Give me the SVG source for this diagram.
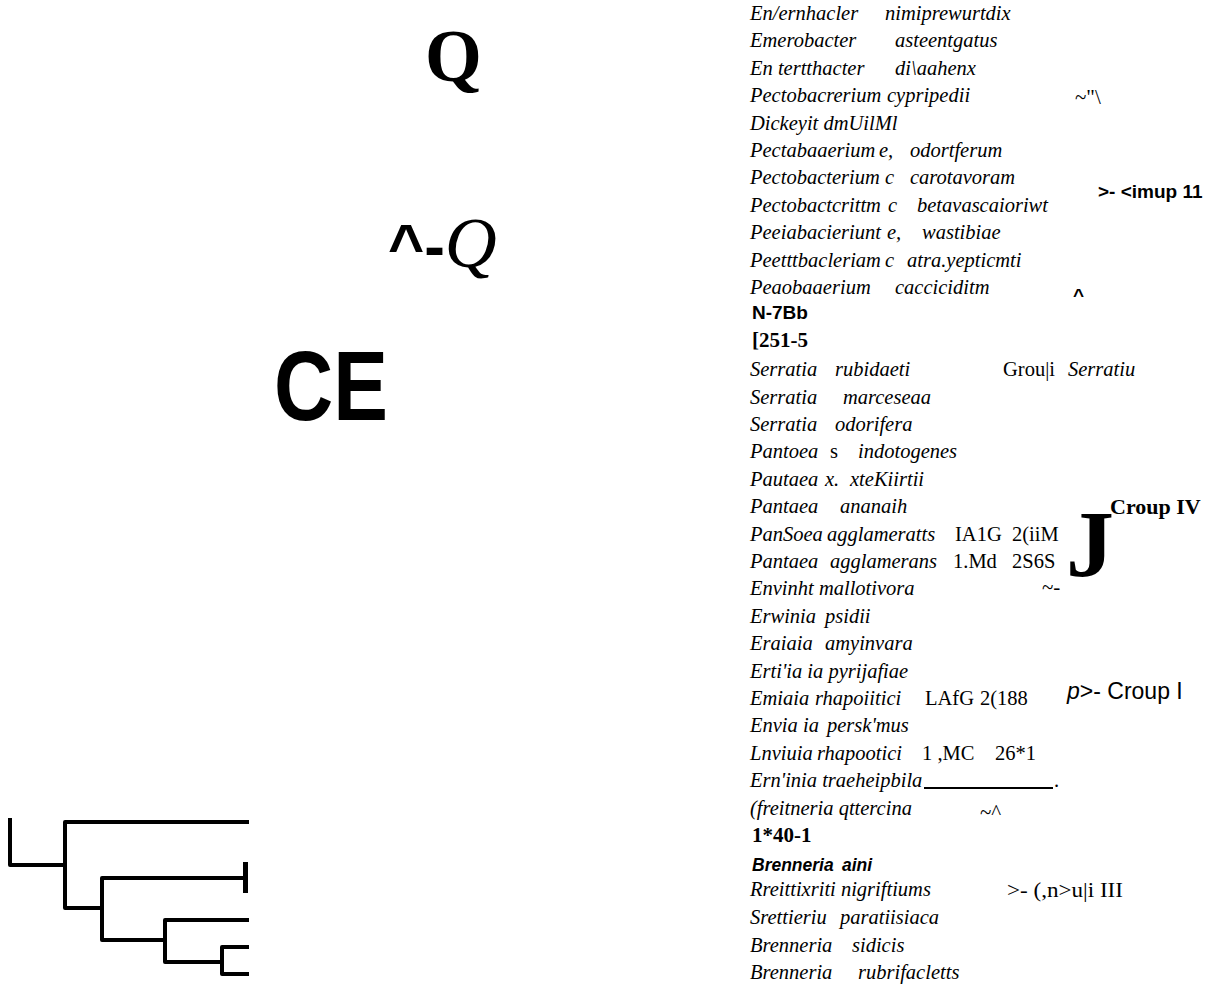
<svg xmlns="http://www.w3.org/2000/svg" width="1210" height="984" viewBox="0 0 1210 984">
<style>
.sp{font-family:"Liberation Serif",serif;font-style:italic;font-size:20.5px;fill:#000}
.rm{font-family:"Liberation Serif",serif;font-style:normal;font-size:20.5px;fill:#000}
.sbf{font-family:"Liberation Serif",serif;font-weight:bold;font-size:21px;fill:#000}
.ab{font-family:"Liberation Sans",sans-serif;font-weight:bold;font-size:19px;fill:#000}
.abi{font-family:"Liberation Sans",sans-serif;font-weight:bold;font-style:italic;font-size:17.5px;fill:#000}
.ar{font-family:"Liberation Sans",sans-serif;font-size:23px;fill:#000}
.tree{fill:none;stroke:#000;stroke-width:4;stroke-linejoin:round;stroke-linecap:square}
</style>
<rect width="1210" height="984" fill="#fff"/>
<g id="big-marks">
<text x="425" y="81" style="font-family:'Liberation Serif',serif;font-weight:bold;font-size:73px">Q</text>
<text x="388" y="267"><tspan style="font-family:'Liberation Sans',sans-serif;font-weight:bold;font-size:62px">^-</tspan><tspan style="font-family:'Liberation Serif',serif;font-style:italic;font-size:72px">Q</tspan></text>
<text x="274" y="420" textLength="114" lengthAdjust="spacingAndGlyphs" style="font-family:'Liberation Sans',sans-serif;font-weight:bold;font-size:98px">CE</text>
</g>
<g id="connectors">
<path class="tree" d="M10,820 V865 H65"/>
<path class="tree" d="M247,822 H65 V908 H102"/>
<path class="tree" d="M245,878 H102 V940 H165"/>
<path class="tree" d="M247,920 H165 V962 H222"/>
<path class="tree" d="M247,947 H222 V974 H247"/>
<path d="M243,862 H248 V893 H243 Z" fill="#000"/>
<line x1="924" y1="788" x2="1053" y2="788" stroke="#000" stroke-width="2"/>
</g>
<g id="taxa">
<g id="t01"><text class="sp" x="750" y="20">En/ernhacler</text><text class="sp" x="885" y="20">nimiprewurtdix</text></g>
<g id="t02"><text class="sp" x="750" y="47">Emerobacter</text><text class="sp" x="895" y="47">asteentgatus</text></g>
<g id="t03"><text class="sp" x="750" y="75">En tertthacter</text><text class="sp" x="895" y="75">di\aahenx</text></g>
<g id="t04"><text class="sp" x="750" y="102">Pectobacrerium</text><text class="sp" x="887" y="102">cypripedii</text></g>
<g id="t05"><text class="sp" x="750" y="130">Dickeyit dmUilMl</text></g>
<g id="t06"><text class="sp" x="750" y="157">Pectabaaerium</text><text class="sp" x="879" y="157">e,</text><text class="sp" x="910" y="157">odortferum</text></g>
<g id="t07"><text class="sp" x="750" y="184">Pectobacterium</text><text class="sp" x="885" y="184">c</text><text class="sp" x="910" y="184">carotavoram</text></g>
<g id="t08"><text class="sp" x="750" y="212">Pectobactcrittm</text><text class="sp" x="888" y="212">c</text><text class="sp" x="917" y="212">betavascaioriwt</text></g>
<g id="t09"><text class="sp" x="750" y="239">Peeiabacieriunt</text><text class="sp" x="887" y="239">e,</text><text class="sp" x="922" y="239">wastibiae</text></g>
<g id="t10"><text class="sp" x="750" y="267">Peetttbacleriam</text><text class="sp" x="885" y="267">c</text><text class="sp" x="907" y="267">atra.yepticmti</text></g>
<g id="t11"><text class="sp" x="750" y="294">Peaobaaerium</text><text class="sp" x="895" y="294">cacciciditm</text></g>
<g id="t12"><text class="ab" x="752" y="319">N-7Bb</text></g>
<g id="t13"><text class="sbf" x="752" y="347">[251-5</text></g>
<g id="t14"><text class="sp" x="750" y="376">Serratia</text><text class="sp" x="835" y="376">rubidaeti</text></g>
<g id="t15"><text class="sp" x="750" y="404">Serratia</text><text class="sp" x="843" y="404">marceseaa</text></g>
<g id="t16"><text class="sp" x="750" y="431">Serratia</text><text class="sp" x="835" y="431">odorifera</text></g>
<g id="t17"><text class="sp" x="750" y="458">Pantoea</text><text class="rm" x="830" y="458">s</text><text class="sp" x="858" y="458">indotogenes</text></g>
<g id="t18"><text class="sp" x="750" y="486">Pautaea</text><text class="sp" x="825" y="486">x.</text><text class="sp" x="850" y="486">xteKiirtii</text></g>
<g id="t19"><text class="sp" x="750" y="513">Pantaea</text><text class="sp" x="840" y="513">ananaih</text></g>
<g id="t20"><text class="sp" x="750" y="541">PanSoea</text><text class="sp" x="827" y="541">agglameratts</text><text class="rm" x="955" y="541">IA1G</text><text class="rm" x="1012" y="541">2(iiM</text></g>
<g id="t21"><text class="sp" x="750" y="568">Pantaea</text><text class="sp" x="830" y="568">agglamerans</text><text class="rm" x="953" y="568">1.Md</text><text class="rm" x="1012" y="568">2S6S</text></g>
<g id="t22"><text class="sp" x="750" y="595">Envinht mallotivora</text></g>
<g id="t23"><text class="sp" x="750" y="623">Erwinia</text><text class="sp" x="825" y="623">psidii</text></g>
<g id="t24"><text class="sp" x="750" y="650">Eraiaia</text><text class="sp" x="825" y="650">amyinvara</text></g>
<g id="t25"><text class="sp" x="750" y="678">Erti'ia ia pyrijafiae</text></g>
<g id="t26"><text class="sp" x="750" y="705">Emiaia</text><text class="sp" x="815" y="705">rhapoiitici</text><text class="rm" x="925" y="705">LAfG</text><text class="rm" x="980" y="705">2(188</text></g>
<g id="t27"><text class="sp" x="750" y="732">Envia ia</text><text class="sp" x="827" y="732">persk'mus</text></g>
<g id="t28"><text class="sp" x="750" y="760">Lnviuia</text><text class="sp" x="817" y="760">rhapootici</text><text class="rm" x="922" y="760" xml:space="preserve">1 ,MC</text><text class="rm" x="995" y="760">26*1</text></g>
<g id="t29"><text class="sp" x="750" y="787">Ern'inia traeheipbila</text><text class="rm" x="1054" y="787">.</text></g>
<g id="t30"><text class="sp" x="750" y="815">(freitneria qttercina</text></g>
<g id="t31"><text class="sbf" x="752" y="842">1*40-1</text></g>
<g id="t32"><text class="abi" x="752" y="871">Brenneria</text><text class="abi" x="842" y="871">aini</text></g>
<g id="t33"><text class="sp" x="750" y="896">Rreittixriti nigriftiums</text></g>
<g id="t34"><text class="sp" x="750" y="924">Srettieriu</text><text class="sp" x="840" y="924">paratiisiaca</text></g>
<g id="t35"><text class="sp" x="750" y="952">Brenneria</text><text class="sp" x="852" y="952">sidicis</text></g>
<g id="t36"><text class="sp" x="750" y="979">Brenneria</text><text class="sp" x="858" y="979">rubrifacletts</text></g>
</g>
<g id="group-labels">
<text class="rm" x="1075" y="104" style="font-size:21px">~"\</text>
<text class="ab" x="1098" y="198">&gt;- &lt;imup 11</text>
<text class="ab" x="1073" y="302">^</text>
<text y="376"><tspan class="rm" x="1003">Grou|i</tspan><tspan class="sp" x="1068">Serratiu</tspan></text>
<text x="1066" y="577" style="font-family:'Liberation Serif',serif;font-weight:bold;font-size:96px">J</text>
<text class="sbf" x="1110" y="514" style="font-size:22px">Croup IV</text>
<text class="rm" x="1042" y="594" style="font-size:21px">~-</text>
<text class="ar" y="699"><tspan x="1067" font-style="italic">p</tspan><tspan>&gt;- Croup I</tspan></text>
<text class="rm" x="980" y="819" style="font-size:21px">~^</text>
<text class="rm" x="1007" y="897" textLength="116" lengthAdjust="spacingAndGlyphs">&gt;- (,n&gt;u|i III</text>
</g>
</svg>
